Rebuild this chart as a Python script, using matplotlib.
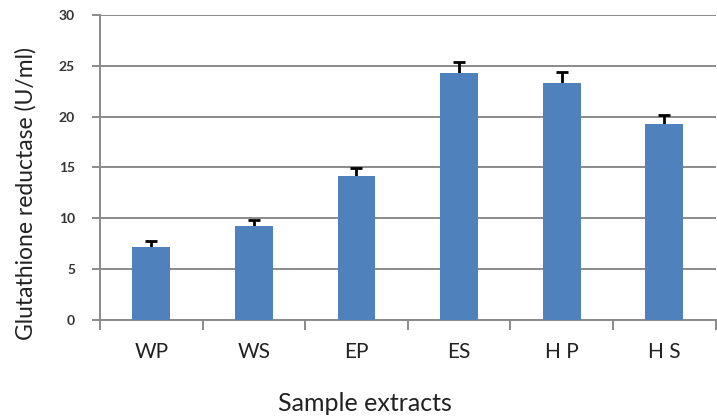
import numpy as np
import matplotlib.pyplot as plt

# sample extracts and enzyme activity
samples = ['WP', 'WS', 'EP', 'ES', 'H P', 'H S']
activity = [7.2, 9.2, 14.2, 24.3, 23.3, 19.3]
errors = [0.6, 0.6, 0.7, 1.1, 1.1, 0.9]
yticks = [0, 5, 10, 15, 20, 25, 30]

plt.rcParams['font.family'] = ['Lato', 'DejaVu Sans']

fig = plt.figure(figsize=(7.17, 4.16), dpi=100)
ax = fig.add_axes([0.1395, 0.2308, 0.8585, 0.7332])

x = np.arange(len(samples))
ax.bar(x, activity, width=0.37, color='#4F81BD', zorder=3)
# only the upper half of the error bar shows above the bar
ax.errorbar(x, activity, yerr=errors, fmt='none',
            ecolor='black', elinewidth=2, capsize=4, capthick=2, zorder=2.5)

ax.set_xlim(-0.5, len(samples) - 0.5)
ax.set_ylim(0, 30)
ax.set_yticks(yticks)
ax.set_yticklabels([str(t) for t in yticks], fontsize=10, fontweight='bold', color='#333333')
ax.yaxis.grid(True, color='#8a8a8a', linewidth=1.4, zorder=0)

ax.set_xticks(x)
ax.set_xticklabels(samples, fontsize=15, color='#222222')
ax.set_xticks(np.arange(-0.5, len(samples)), minor=True)
ax.tick_params(axis='x', which='major', length=0, pad=16)
ax.tick_params(axis='x', which='minor', length=7, width=1.4, color='#8a8a8a')
ax.tick_params(axis='y', length=6, width=1.4, color='#8a8a8a', pad=12)

for side in ['top', 'right']:
    ax.spines[side].set_visible(False)
for side in ['left', 'bottom']:
    ax.spines[side].set_color('#8a8a8a')
    ax.spines[side].set_linewidth(1.4)

ax.set_ylabel('Glutathione reductase (U/ml)', fontsize=16.5, color='#222222')
ax.yaxis.set_label_coords(-0.103, 0.415)
ax.set_xlabel('Sample extracts', fontsize=18, color='#222222')
ax.xaxis.set_label_coords(0.431, -0.235)

fig.savefig('out.png', dpi=100)
